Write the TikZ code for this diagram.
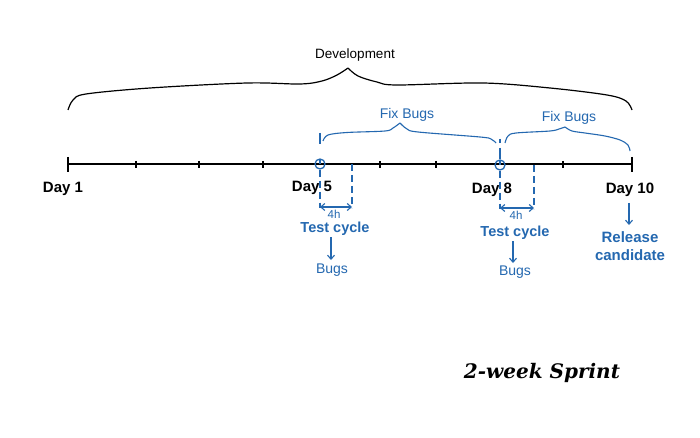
\documentclass[tikz,border=0pt]{standalone}
\usepackage{fontspec}
\setmainfont{Liberation Sans}
\newfontfamily\sprintfont{DejaVu Serif}
\usetikzlibrary{arrows.meta}
\definecolor{bl}{RGB}{36,104,176}
\begin{document}
\begin{tikzpicture}[x=1pt,y=-1pt,
  lbl/.style={inner sep=0pt,font=\fontsize{14}{16}\selectfont},
  daylbl/.style={lbl,font=\fontsize{15}{17}\selectfont\bfseries},
  bluelbl/.style={lbl,text=bl},
  boldblue/.style={lbl,text=bl,font=\fontsize{14.5}{18}\selectfont\bfseries},
  tline/.style={line width=1.4pt,black},
  bbrace/.style={line width=1.2pt,black,line join=round},
  bluebrace/.style={line width=1.1pt,bl,line join=round},
  dashv/.style={bl,line width=1.1pt,dash pattern=on 7pt off 4pt},
  arr/.style={bl,line width=1.1pt,-{Straight Barb[length=4pt,width=7pt]}},
  darr/.style={bl,line width=1.1pt,{Straight Barb[length=4pt,width=7pt]}-{Straight Barb[length=4pt,width=7pt]}}
]
\useasboundingbox (0,0) rectangle (700,438);
\fill[white] (0,0) rectangle (700,438);

% timeline
\coordinate (t0) at (68,164);
\coordinate (t1) at (632,164);
\draw[tline] (t0) -- (t1);
\draw[tline] (68,157) -- (68,172);
\draw[tline] (632,157) -- (632,172);
\foreach \x in {136,199,263,380,436,563}{
  \draw[line width=1.2pt] (\x,161) -- (\x,168);
}

% Development brace
\draw[bbrace] plot[smooth,tension=0.55] coordinates {(68,110) (73,100) (86,94) (150,88) (247,83) (300,84) (322,81) (337,75) (348,68)};
\draw[bbrace] plot[smooth,tension=0.55] coordinates {(348,68) (358,76) (377,82) (397,85) (483,83) (550,88) (607,95) (626,101) (632,110)};
\node[lbl,font=\fontsize{13.5}{16}\selectfont] (dev) at (355,55) {Development};

% Fix bugs braces
\draw[bluebrace] (320,133) -- (320,144);
\draw[bluebrace] plot[smooth,tension=0.55] coordinates {(323,141) (328,135) (347,132.5) (385,131) (393,128) (400,123)};
\draw[bluebrace] plot[smooth,tension=0.55] coordinates {(400,123) (407,129) (418,132) (480,137) (491,139) (496,143)};
\node[bluelbl] (fb1) at (407,115) {Fix Bugs};
\draw[bluebrace] plot[smooth,tension=0.55] coordinates {(505,143) (508,136) (516,133) (550,131) (559,129) (565,127)};
\draw[bluebrace] plot[smooth,tension=0.55] coordinates {(565,127) (572,131) (585,133) (605,136) (620,140) (628,145) (630,151)};
\node[bluelbl] (fb2) at (569,118) {Fix Bugs};
\draw[bl,line width=1.1pt] (500,139) -- (500,143);
\draw[bl,line width=1.1pt] (500,148) -- (500,159);

% circles
\node[draw=bl,line width=1.3pt,circle,minimum size=10pt,inner sep=0pt] (c5) at (320,164) {};
\node[draw=bl,line width=1.3pt,circle,minimum size=10pt,inner sep=0pt] (c8) at (500,165) {};
\draw[bl,line width=1.1pt] (320,159) -- (320,164);
\draw[bl,line width=1.1pt] (500,160) -- (500,165);

% Day labels
\node[daylbl] (d1) at (63,189) {Day 1};
\node[daylbl] (d5) at (312,188) {Day 5};
\node[daylbl] (d8) at (492,190) {Day 8};
\node[daylbl] (d10) at (630,190) {Day 10};

% test cycle day 5
\coordinate (a5l) at (320,207);
\coordinate (a5r) at (352,207);
\draw[dashv] (c5.south) -- (320,208);
\draw[dashv] (352,164) -- (352,208);
\draw[darr] (a5l) -- (a5r);
\node[bluelbl,font=\fontsize{11.5}{13}\selectfont] (h5) at (334,214) {4h};
\node[boldblue] (tc5) at (335,229) {Test cycle};
\node[bluelbl] (b5) at (332,270) {Bugs};
\draw[arr] (331,237) -- (331,260);

% test cycle day 8
\coordinate (a8l) at (500,208);
\coordinate (a8r) at (534,208);
\draw[dashv] (c8.south) -- (500,209);
\draw[dashv] (534,165) -- (534,209);
\draw[darr] (a8l) -- (a8r);
\node[bluelbl,font=\fontsize{11.5}{13}\selectfont] (h8) at (516,215) {4h};
\node[boldblue] (tc8) at (515,233) {Test cycle};
\node[bluelbl] (b8) at (515,272) {Bugs};
\draw[arr] (513,241) -- (513,263);

% release
\node[boldblue,font=\fontsize{15}{18}\selectfont\bfseries,align=center] (rel) at (630,246) {Release\\candidate};
\draw[arr] (629,203) -- (629,225);

% sprint
\node[inner sep=0pt,font=\sprintfont\fontsize{20}{24}\selectfont\bfseries\itshape] (spr) at (542,373) {2-week Sprint};
\end{tikzpicture}
\end{document}
